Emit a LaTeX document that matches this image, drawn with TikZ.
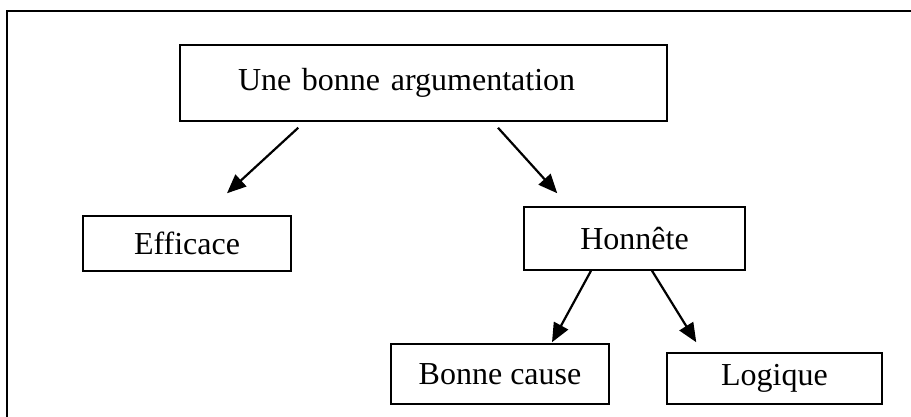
\documentclass[tikz,border=0pt]{standalone}
\usepackage{fontspec}
\setmainfont{Liberation Serif}
\usetikzlibrary{calc, arrows.meta}

\begin{document}
\begin{tikzpicture}[
    x=1pt, y=-1pt,
    font=\fontsize{32}{38}\selectfont,
    box/.style={rectangle, draw, line width=1.5pt, inner sep=0pt, align=center},
    arrow/.style={-{Triangle[length=19pt, width=16pt]}, line width=2.2pt}
]
\useasboundingbox (0,0) rectangle (911,417);

% Outer frame (top and left edges)
\draw[line width=2.5pt] (911,11) -- (7,11) -- (7,417);

% Boxes
\node[box, minimum width=487pt, minimum height=76pt, text width=371pt,
      inner xsep=58pt, align=left] (arg) at (423.5,83) {Une bonne argumentation};
\node[box, minimum width=208pt, minimum height=55pt] (eff) at (187,243.5) {Efficace};
\node[box, minimum width=221pt, minimum height=63pt] (hon) at (634.5,238.5) {Honnête};
\node[box, minimum width=218pt, minimum height=60pt] (bc) at (500,374) {Bonne cause};
\node[box, minimum width=215pt, minimum height=51pt] (log) at (774.5,378.5) {Logique};

% Arrows
\draw[arrow] ($(arg.south west)+(119,6)$) -- ($(eff.north)+(40,-22)$);
\draw[arrow] ($(arg.south)+(74.5,6)$) -- ($(hon.north west)+(34,-13)$);
\draw[arrow] ($(hon.south)+(-43.5,0)$) -- ($(bc.north)+(52,-1)$);
\draw[arrow] ($(hon.south)+(17.5,0)$) -- ($(log.north west)+(30,-10)$);

\end{tikzpicture}
\end{document}
